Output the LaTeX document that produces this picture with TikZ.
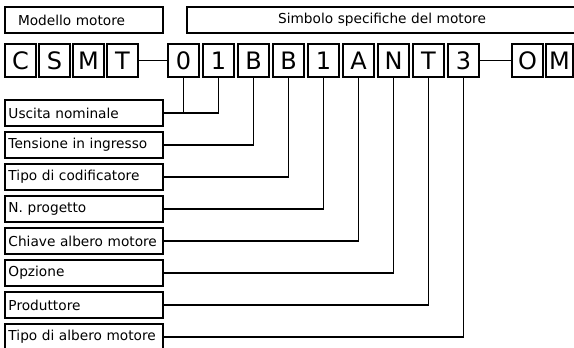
\documentclass[tikz,border=0pt]{standalone}
\usepackage{fontspec}
\setmainfont{DejaVu Sans}
\usepackage{tikz}
\tikzset{code box/.style={rectangle,draw,line width=1.5pt,outer sep=0pt,minimum width=31pt,minimum height=33pt,inner sep=0pt,font=\fontsize{24}{24}\selectfont},
label box/.style={rectangle,draw,line width=1.5pt,outer sep=0pt,minimum height=26pt,text width=151pt,inner xsep=3.5pt,inner ysep=0pt,align=left,font=\fontsize{13.7}{15}\selectfont},
head box/.style={rectangle,draw,line width=1.5pt,outer sep=0pt,minimum height=26pt,inner sep=0pt,font=\fontsize{13.7}{15}\selectfont},
link/.style={draw,line width=1.5pt},
}
\usetikzlibrary{positioning}

\begin{document}
\begin{tikzpicture}[x=1pt,y=-1pt]
\useasboundingbox (0,0) rectangle (574,348);

%% motor model
\node[code box,anchor=north west] (c1) at (5,44) {C};
\node[code box] (c2) [right = 3pt of c1] {S};
\node[code box] (c3) [right = 3pt of c2] {M};
\node[code box] (c4) [right = 3pt of c3] {T};

%% specific symbols
\node[code box] (s1) [right = 30pt of c4] {0};
\node[code box] (s2) [right = 4pt of s1] {1};
\node[code box] (s3) [right = 4pt of s2] {B};
\node[code box] (s4) [right = 4pt of s3] {B};
\node[code box] (s5) [right = 4pt of s4] {1};
\node[code box] (s6) [right = 4pt of s5] {A};
\node[code box] (s7) [right = 4pt of s6] {N};
\node[code box] (s8) [right = 4pt of s7] {T};
\node[code box] (s9) [right = 4pt of s8] {3};
\node[code box] (o1) [right = 33pt of s9] {O};
\node[code box,minimum width=27pt] (o2) [right = 3pt of o1] {M};

%% headings
\node[head box,text width=132pt,inner xsep=13pt,align=left] (h1) [above right = 11pt and 0pt of c1.north west] {Modello motore};
\node[head box,text width=390pt,align=center] (h2) [right = 24pt of h1] {Simbolo specifiche del motore};

%% meaning of each symbol
\node[label box] (l1) [below right = 23pt and 0pt of c1.south west] {Uscita nominale};
\node[label box] (l2) [below = 6pt of l1] {Tensione in ingresso};
\node[label box] (l3) [below = 6pt of l2] {Tipo di codificatore};
\node[label box] (l4) [below = 6pt of l3] {N. progetto};
\node[label box] (l5) [below = 6pt of l4] {Chiave albero motore};
\node[label box] (l6) [below = 6pt of l5] {Opzione};
\node[label box] (l7) [below = 6pt of l6] {Produttore};
\node[label box] (l8) [below = 6pt of l7] {Tipo di albero motore};

\path[link]
(c4) -- (s1)
(s9) -- (o1)
(l1.east) -| (s2.south)
(s1.south) -- (s1.south |- l1.east)
(l2.east) -| (s3.south)
(l3.east) -| (s4.south)
(l4.east) -| (s5.south)
(l5.east) -| (s6.south)
(l6.east) -| (s7.south)
(l7.east) -| (s8.south)
(l8.east) -| (s9.south)
;
\end{tikzpicture}
\end{document}
